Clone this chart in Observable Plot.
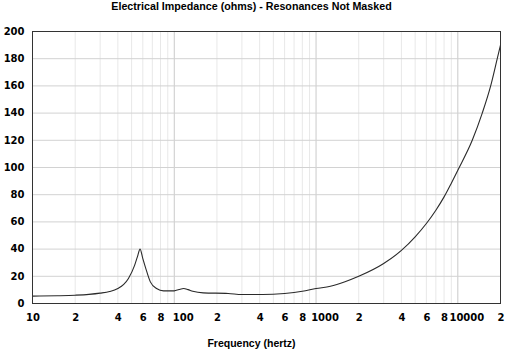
<!DOCTYPE html>
<html>
<head>
<meta charset="utf-8">
<script src="https://cdn.jsdelivr.net/npm/d3@7"></script>
<script src="https://cdn.jsdelivr.net/npm/@observablehq/plot@0.6"></script>
<style>
  html, body { margin: 0; padding: 0; background: #ffffff; }
  #chart { width: 512px; height: 355px; }
</style>
</head>
<body>
<div id="chart"></div>
<script>
// ---- data ----
const titleText = "Electrical Impedance (ohms) - Resonances Not Masked";
const xLabelText = "Frequency (hertz)";

const freq = [10, 15, 20, 25, 30, 35, 40, 44, 47.5, 52.5, 55, 57.4, 60, 63, 67.8, 75, 84, 100, 108, 116.5, 125, 135, 160, 240, 300, 420, 600, 800, 1000, 1262, 1600, 2000, 3000, 4000, 5000, 6000, 7000, 8000, 9000, 10000, 12640, 14870, 17050, 18970, 20000];
const impedance = [5.4, 5.7, 6.1, 6.7, 7.6, 8.8, 11, 14, 18.4, 28, 34.5, 40, 33, 25.7, 15.9, 11, 9.3, 9.3, 10.3, 11, 10.2, 9, 7.8, 7.4, 6.6, 6.6, 7.4, 9, 11, 12.7, 16, 20, 29.4, 39, 49, 58.8, 68.6, 78.4, 88.5, 98, 120, 140, 160, 180, 190];

const yTicks = [0, 20, 40, 60, 80, 100, 120, 140, 160, 180, 200];
const xTickValues = [10, 20, 40, 60, 80, 100, 200, 400, 600, 800, 1000, 2000, 4000, 6000, 8000, 10000, 20000];
const xTickLabels = ["10", "2", "4", "6", "8", "100", "2", "4", "6", "8", "1000", "2", "4", "6", "8", "10000", "2"];
const minorGrid = [20, 30, 40, 50, 60, 70, 80, 90, 200, 300, 400, 500, 600, 700, 800, 900, 2000, 3000, 4000, 5000, 6000, 7000, 8000, 9000];
const majorGrid = [100, 1000, 10000];

const curveData = freq.map((f, i) => ({f, z: impedance[i]}));
const isDecadeLabel = (d, i) => xTickLabels[i].length >= 3;

const chart = Plot.plot({
  width: 512,
  height: 355,
  marginTop: 31,
  marginLeft: 32,
  marginRight: 12,
  marginBottom: 52,
  style: {fontFamily: "DejaVu Sans", fontSize: "10px", fontWeight: "bold", background: "#ffffff", color: "#000"},
  x: {type: "log", domain: [10, 20000], axis: null},
  y: {domain: [0, 200]},
  marks: [
    Plot.ruleX(minorGrid, {stroke: "#e8e8e8", strokeWidth: 1}),
    Plot.ruleX(majorGrid, {stroke: "#cacaca", strokeWidth: 1}),
    Plot.ruleY(yTicks.slice(1, -1), {stroke: "#d2d2d2", strokeWidth: 1}),
    Plot.line(curveData, {x: "f", y: "z", stroke: "#2a2a2a", strokeWidth: 1.1, curve: "monotone-x"}),
    Plot.frame({stroke: "#333", strokeWidth: 1}),
    Plot.axisY({ticks: yTicks, tickSize: 0, tickPadding: 8, label: null, fill: "#000"}),
    Plot.text(xTickValues, {x: d => d, text: (d, i) => xTickLabels[i], filter: (d, i) => !isDecadeLabel(d, i), frameAnchor: "bottom", dy: 14, dx: 0.5, lineAnchor: "middle", fill: "#000"}),
    Plot.text(xTickValues, {x: d => d, text: (d, i) => xTickLabels[i], filter: isDecadeLabel, frameAnchor: "bottom", dy: 14, dx: 9, lineAnchor: "middle", fill: "#000"}),
    Plot.text([titleText], {frameAnchor: "top", dy: -24.5, dx: -15, lineAnchor: "middle", fontFamily: "Liberation Sans", fontSize: 10.7, fontWeight: "bold", fill: "#000"}),
    Plot.text([xLabelText], {frameAnchor: "bottom", dy: 40, dx: -15, lineAnchor: "middle", fontFamily: "Liberation Sans", fontSize: 10.5, fontWeight: "bold", fill: "#000"})
  ]
});
document.getElementById("chart").appendChild(chart);
</script>
</body>
</html>
